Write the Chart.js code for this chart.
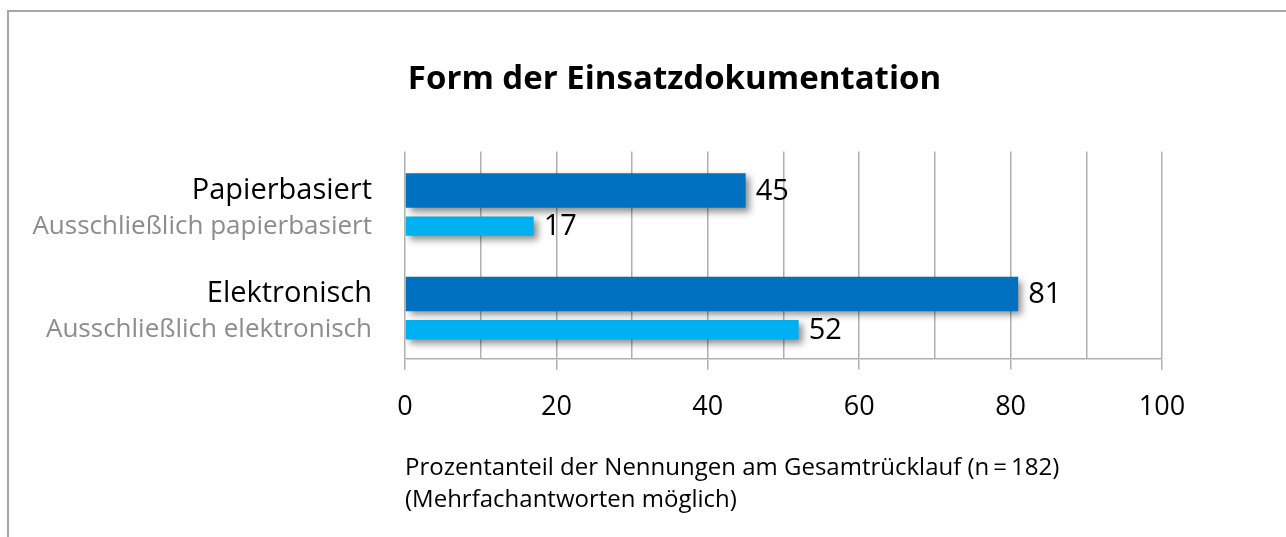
<!DOCTYPE html>
<html lang="de">
<head>
<meta charset="utf-8">
<title>Form der Einsatzdokumentation</title>
<script src="https://cdn.jsdelivr.net/npm/chart.js@4.4.1/dist/chart.umd.min.js"></script>
<style>
  html, body { margin: 0; padding: 0; background: #fff; }
  #wrap { position: relative; width: 1286px; height: 537px; }
  #rahmen {
    position: absolute; left: 7px; top: 10px; right: 0; bottom: 0;
    border-top: 2px solid #a6a6a6; border-left: 2px solid #a6a6a6;
    pointer-events: none;
  }
</style>
</head>
<body>
<div id="wrap">
  <canvas id="chart" width="1286" height="537"></canvas>
  <div id="rahmen"></div>
</div>
<script>
const categories = ['Papierbasiert', 'Elektronisch'];
const subCategories = ['Ausschließlich papierbasiert', 'Ausschließlich elektronisch'];
const allValues = [45, 81];
const exclusiveValues = [17, 52];
const xTickLabels = [0, 20, 40, 60, 80, 100];

const FONT = "'Open Sans', 'Noto Sans', sans-serif";
const gridColor = '#b0b0b0';

// Schatten unter den Balken + Beschriftungen (Kategorien links, Werte rechts)
const barDeko = {
  id: 'barDeko',
  beforeDatasetsDraw(chart) {
    const ctx = chart.ctx;
    ctx.save();
    ctx.shadowColor = 'rgba(0, 0, 0, 0.45)';
    ctx.shadowBlur = 7;
    ctx.shadowOffsetX = 4;
    ctx.shadowOffsetY = 4;
  },
  afterDatasetsDraw(chart) {
    const ctx = chart.ctx;
    ctx.restore();
    const left = chart.chartArea.left;
    ctx.save();
    ctx.textBaseline = 'middle';
    chart.data.datasets.forEach((ds, di) => {
      const meta = chart.getDatasetMeta(di);
      meta.data.forEach((bar, i) => {
        // Wert rechts neben dem Balken
        ctx.font = '29px ' + FONT;
        ctx.fillStyle = '#000';
        ctx.textAlign = 'left';
        ctx.fillText(String(ds.data[i]), bar.x + 10, bar.y + 1);
        // Kategorie links
        ctx.textAlign = 'right';
        if (di === 0) {
          ctx.font = '29px ' + FONT;
          ctx.fillStyle = '#000';
          ctx.fillText(categories[i], left - 33, bar.y);
        } else {
          ctx.font = '26px ' + FONT;
          ctx.fillStyle = '#8c8c8c';
          ctx.fillText(subCategories[i], left - 33, bar.y);
        }
      });
    });
    ctx.restore();
  }
};

new Chart(document.getElementById('chart'), {
  type: 'bar',
  data: {
    labels: categories,
    datasets: [
      {
        label: 'Gesamt',
        data: allValues,
        backgroundColor: '#0070c0',
        categoryPercentage: 0.5,
        barPercentage: 1.333
      },
      {
        label: 'Ausschließlich',
        data: exclusiveValues,
        backgroundColor: '#00b0f0',
        categoryPercentage: 0.88,
        barPercentage: 0.423
      }
    ]
  },
  options: {
    indexAxis: 'y',
    responsive: false,
    animation: false,
    layout: { padding: { left: 187, right: 124, top: 60, bottom: 17 } },
    scales: {
      x: {
        min: 0,
        max: 100,
        grid: {
          color: gridColor,
          lineWidth: 1.5,
          tickLength: 11,
          tickColor: (c) => xTickLabels.includes(c.tick.value) ? gridColor : 'rgba(0,0,0,0)'
        },
        border: { color: gridColor, width: 1.5 },
        ticks: {
          stepSize: 10,
          autoSkip: false,
          maxRotation: 0,
          padding: 21,
          color: '#000',
          font: { family: FONT, size: 27 },
          callback: (v) => xTickLabels.includes(v) ? v : ''
        },
        title: {
          display: true,
          align: 'start',
          text: ['Prozentanteil der Nennungen am Gesamtrücklauf (n\u2009=\u2009182)', '(Mehrfachantworten möglich)'],
          color: '#000',
          font: { family: FONT, size: 24, lineHeight: 1.33 },
          padding: { top: 8, bottom: 4 }
        }
      },
      y: {
        grid: { display: false },
        border: { display: false },
        ticks: { display: false },
        afterFit: (scale) => { scale.width = 218; }
      }
    },
    plugins: {
      legend: { display: false },
      tooltip: { enabled: false },
      title: {
        display: true,
        text: 'Form der Einsatzdokumentation',
        color: '#000',
        font: { family: FONT, size: 33, weight: 'bold' },
        padding: { top: 0, bottom: 52 }
      }
    }
  },
  plugins: [barDeko]
});
</script>
</body>
</html>
